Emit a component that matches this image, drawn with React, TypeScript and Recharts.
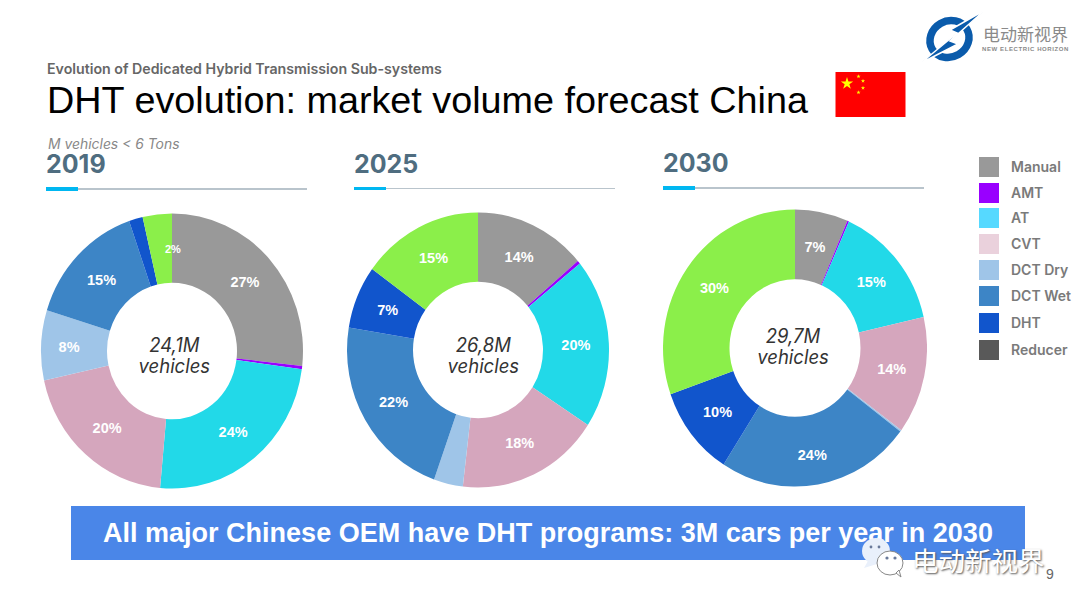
import React from "react";
import { PieChart, Pie, Cell } from "recharts";

const segments = ["Manual", "AMT", "AT", "CVT", "DCT Dry", "DCT Wet", "DHT", "Other"];
const sliceColors = ["#999999", "#9900ff", "#22d9e8", "#d5a6bd", "#9fc5e8", "#3d85c6", "#1155cc", "#8bef4a"];

const shares2019 = [26.7, 0.4, 24.3, 20.1, 8.2, 14.9, 1.7, 3.6];
const shares2025 = [13.8, 0.4, 20.0, 17.7, 3.6, 22.2, 7.4, 15.0];
const shares2030 = [6.5, 0.2, 14.7, 13.7, 0.2, 23.8, 10.5, 30.4];

const labels2019 = ["27%", "", "24%", "20%", "8%", "15%", "", "2%"];
const labels2025 = ["14%", "", "20%", "18%", "", "22%", "7%", "15%"];
const labels2030 = ["7%", "", "15%", "14%", "", "24%", "10%", "30%"];

const legendNames = ["Manual", "AMT", "AT", "CVT", "DCT Dry", "DCT Wet", "DHT", "Reducer"];
const legendColors = ["#999999", "#9900ff", "#56d9ff", "#ead1dc", "#9fc5e8", "#3d85c6", "#1155cc", "#595959"];
const legendTops = [157, 183, 208, 234, 260, 286, 313, 340];

const MONT = "Inter, 'Open Sans', sans-serif";
const ARIAL = "'Liberation Sans', Arial, sans-serif";
const BOX = 290;

function toRows(shares: number[], labels: string[]) {
  return segments.map((name, i) => ({ name, share: shares[i], label: labels[i] }));
}

function sliceLabel(labels: string[], nudge: Record<string, number[]>) {
  return (props: any) => {
    const { cx, cy, midAngle, innerRadius, outerRadius, index } = props;
    const text = labels[index];
    if (!text) return null;
    const r = (innerRadius + outerRadius) / 2;
    const rad = (midAngle * Math.PI) / 180;
    const [dx, dy] = nudge[text] || [0, 0];
    return (
      <text
        x={cx + r * Math.cos(rad) + dx}
        y={cy - r * Math.sin(rad) + dy}
        textAnchor="middle"
        dominantBaseline="central"
        fill="#ffffff"
        fontFamily={ARIAL}
        fontWeight={700}
        fontSize={text === "2%" ? 11 : 14.5}
      >
        {text}
      </text>
    );
  };
}

function Donut({ x, y, radius, inner, rows, labels, total, nudge = {}, textX = 0, textY = 0 }: any) {
  const mid = BOX / 2;
  const centerLine = {
    position: "absolute" as const,
    left: textX,
    width: BOX,
    textAlign: "center" as const,
    fontFamily: MONT,
    fontStyle: "italic",
    fontWeight: 400,
    fontSize: 18.5,
    lineHeight: "20px",
    color: "#333333",
  };
  return (
    <div
      style={{
        position: "absolute",
        left: x - mid,
        top: y - mid,
        width: BOX,
        height: BOX,
        transform: "scaleY(1.05)",
      }}
    >
      <PieChart width={BOX} height={BOX} margin={{ top: 0, right: 0, bottom: 0, left: 0 }}>
        <Pie
          data={rows}
          dataKey="share"
          nameKey="name"
          cx={mid}
          cy={mid}
          startAngle={90}
          endAngle={-270}
          innerRadius={inner}
          outerRadius={radius}
          stroke="none"
          isAnimationActive={false}
          labelLine={false}
          label={sliceLabel(labels, nudge)}
        >
          {rows.map((r: any, i: number) => (
            <Cell key={r.name} fill={sliceColors[i]} />
          ))}
        </Pie>
      </PieChart>
      <div style={{ ...centerLine, top: mid - 20 + textY }}>{total}</div>
      <div style={{ ...centerLine, top: mid + textY }}>vehicles</div>
    </div>
  );
}

function YearHead({ x, ruleY, year }: any) {
  return (
    <>
      <div
        style={{
          position: "absolute",
          left: x,
          top: ruleY - 36,
          fontFamily: MONT,
          fontWeight: 700,
          fontSize: 25,
          lineHeight: "24px",
          color: "#4f6d80",
        }}
      >
        {year}
      </div>
      <div style={{ position: "absolute", left: x, top: ruleY, width: 261, height: 1.5, background: "#b9c4cc" }} />
      <div style={{ position: "absolute", left: x, top: ruleY - 1, width: 32, height: 3.5, background: "#00b7f1" }} />
    </>
  );
}

function Flag() {
  const smallStars = [
    [858.5, 76.5],
    [863, 81],
    [863, 88],
    [858.5, 92.5],
  ];
  const star = (cx: number, cy: number, r: number) =>
    Array.from({ length: 10 }, (_, i) => {
      const a = -Math.PI / 2 + (i * Math.PI) / 5;
      const d = i % 2 === 0 ? r : r * 0.38;
      return `${cx + d * Math.cos(a)},${cy + d * Math.sin(a)}`;
    }).join(" ");
  return (
    <svg style={{ position: "absolute", left: 0, top: 0 }} width={1080} height={130}>
      <rect x={835.5} y={72} width={70} height={45} fill="#ff0000" />
      <polygon points={star(847, 83.5, 6.5)} fill="#ffff00" />
      {smallStars.map(([a, b]) => (
        <polygon key={a + "-" + b} points={star(a, b, 2.2)} fill="#ffff00" />
      ))}
      {/* logo */}
      <g>
        <ellipse cx={949.5} cy={39} rx={20} ry={18} fill="none" stroke="#0a5bab" strokeWidth={7.5} transform="rotate(-30 949.5 39)" />
        <polygon points="985,10 950,30 957,33 921,63 958,44 950,41" fill="#0a5bab" stroke="#ffffff" strokeWidth={1.5} />
      </g>
    </svg>
  );
}

function WeChat() {
  return (
    <svg style={{ position: "absolute", left: 860, top: 537 }} width={50} height={45}>
      <ellipse cx={16} cy={14} rx={14} ry={13} fill="#e9f0fb" />
      <polygon points="8,24 4,31 17,27" fill="#e9f0fb" />
      <ellipse cx={30} cy={26} rx={13} ry={12} fill="#ffffff" stroke="#888888" strokeWidth={1} />
      <polygon points="36,36 41,40 39,33" fill="#ffffff" stroke="#888888" strokeWidth={1} />
      <circle cx={27} cy={21} r={1.6} fill="#6a7a9a" />
      <circle cx={35} cy={21} r={1.6} fill="#6a7a9a" />
      <circle cx={11} cy={10} r={1.4} fill="#6a7a9a" />
      <circle cx={19} cy={10} r={1.4} fill="#6a7a9a" />
    </svg>
  );
}

export default function App() {
  return (
    <div style={{ position: "absolute", left: 0, top: 0, width: 1080, height: 608, background: "#ffffff", overflow: "hidden" }}>
      <div style={{ position: "absolute", left: 47, top: 60, fontFamily: MONT, fontWeight: 600, fontSize: 14.2, lineHeight: "18px", color: "#666666", whiteSpace: "nowrap" }}>
        Evolution of Dedicated Hybrid Transmission Sub-systems
      </div>
      <div style={{ position: "absolute", left: 47, top: 78, fontFamily: ARIAL, fontSize: 37.75, lineHeight: "44px", color: "#000000", whiteSpace: "nowrap" }}>
        DHT evolution: market volume forecast China
      </div>
      <Flag />
      <div style={{ position: "absolute", left: 983, top: 23, fontFamily: "'Noto Sans CJK SC', sans-serif", fontSize: 17, lineHeight: "22px", color: "#8a8a8a" }}>
        电动新视界
      </div>
      <div style={{ position: "absolute", left: 982, top: 45, fontFamily: ARIAL, fontWeight: 700, fontSize: 6, lineHeight: "8px", letterSpacing: 0.6, color: "#8a8a8a", whiteSpace: "nowrap" }}>
        NEW ELECTRIC HORIZON
      </div>
      <div style={{ position: "absolute", left: 48, top: 137, fontFamily: MONT, fontStyle: "italic", fontSize: 13.9, lineHeight: "14px", color: "#888888", whiteSpace: "nowrap" }}>
        M vehicles &lt; 6 Tons
      </div>

      <YearHead x={46} ruleY={188} year="2019" />
      <YearHead x={354} ruleY={187.5} year="2025" />
      <YearHead x={663} ruleY={187} year="2030" />

      <Donut x={172.3} y={350.7} radius={131} inner={65} rows={toRows(shares2019, labels2019)} labels={labels2019} total="24,1M" nudge={{ "2%": [12, 0], "8%": [-5, 0] }} textX={2} textY={4} />
      <Donut x={478.3} y={350} radius={131} inner={65} rows={toRows(shares2025, labels2025)} labels={labels2025} total="26,8M" textX={5} textY={5} />
      <Donut x={795} y={348.3} radius={132} inner={65.5} rows={toRows(shares2030, labels2030)} labels={labels2030} total="29,7M" nudge={{ "24%": [0, 5] }} textX={-2} textY={-2} />

      {legendNames.map((name, i) => (
        <React.Fragment key={name}>
          <div style={{ position: "absolute", left: 979, top: legendTops[i], width: 20, height: 20, background: legendColors[i] }} />
          <div style={{ position: "absolute", left: 1011, top: legendTops[i], fontFamily: MONT, fontWeight: 600, fontSize: 14, lineHeight: "20px", color: "#7a7a7a", whiteSpace: "nowrap" }}>
            {name}
          </div>
        </React.Fragment>
      ))}

      <div style={{ position: "absolute", left: 71, top: 506, width: 954, height: 54, background: "#4a86e8", color: "#ffffff", fontFamily: ARIAL, fontWeight: 700, fontSize: 27, lineHeight: "55px", textAlign: "center", whiteSpace: "nowrap" }}>
        All major Chinese OEM have DHT programs: 3M cars per year in 2030
      </div>
      <WeChat />
      <div style={{ position: "absolute", left: 912, top: 543, fontFamily: "'Noto Sans CJK SC', sans-serif", fontSize: 26.5, lineHeight: "34px", color: "#ffffff", textShadow: "1px 1px 2px #555555", whiteSpace: "nowrap" }}>
        电动新视界
      </div>
      <div style={{ position: "absolute", left: 1046, top: 566, fontFamily: ARIAL, fontSize: 14, lineHeight: "16px", color: "#666666" }}>9</div>
    </div>
  );
}
